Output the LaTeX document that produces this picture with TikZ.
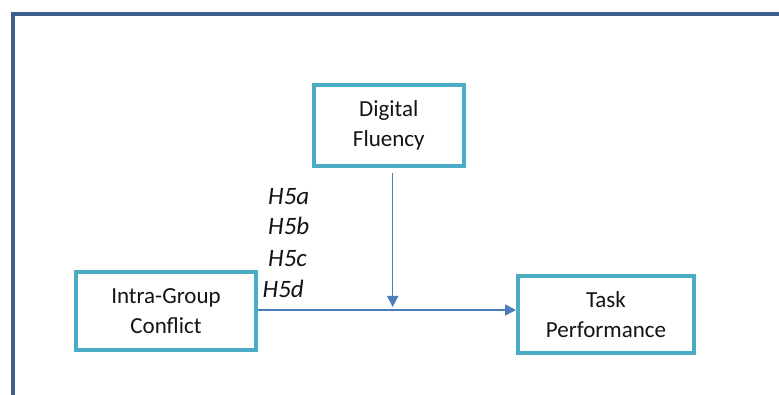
\documentclass[tikz,border=0pt]{standalone}
\usepackage{fontspec}
\setmainfont{Carlito}
\usetikzlibrary{arrows.meta}
\definecolor{framecol}{RGB}{59,94,138}
\definecolor{boxcol}{RGB}{75,172,198}
\definecolor{linecol}{RGB}{74,126,187}
\definecolor{txtcol}{RGB}{20,20,20}
\begin{document}
\begin{tikzpicture}[x=1pt,y=-1pt,
  var/.style={draw=boxcol, line width=4pt, fill=white, align=center, text=txtcol,
    font=\fontsize{23}{30}\selectfont, inner sep=0pt},
  hyp/.style={anchor=base west, text=txtcol, font=\fontsize{25}{28}\selectfont\itshape, inner sep=0pt},
  link/.style={draw=linecol, line width=1.5pt, -{Triangle[width=11pt,length=11pt]}}]
\useasboundingbox (0,0) rectangle (779,395);
\fill[white] (0,0) rectangle (779,395);
% page frame
\draw[framecol, line width=4pt] (13,395) -- (13,14.5) -- (779,14.5);
% variables
\node[var, minimum width=150.5pt, minimum height=81.5pt] (df) at (388.75,125.75) {Digital\\Fluency};
\node[var, minimum width=180pt, minimum height=78pt] (igc) at (166,311) {Intra-Group\\Conflict};
\node[var, minimum width=176pt, minimum height=77pt] (tp) at (606,314.5) {Task\\Performance};
% hypothesis labels
\node[hyp] (h5a) at (268,205) {H5a};
\node[hyp] (h5b) at (268,235) {H5b};
\node[hyp] (h5c) at (268,266.5) {H5c};
\node[hyp] (h5d) at (262.5,298) {H5d};
% paths
\coordinate (mod) at (392.7,307);
\draw[link] (igc.east |- 0,310) -- (tp.west |- 0,310);
\draw[link, shorten <=4.5pt] (mod |- df.south) -- (mod);
\end{tikzpicture}
\end{document}
